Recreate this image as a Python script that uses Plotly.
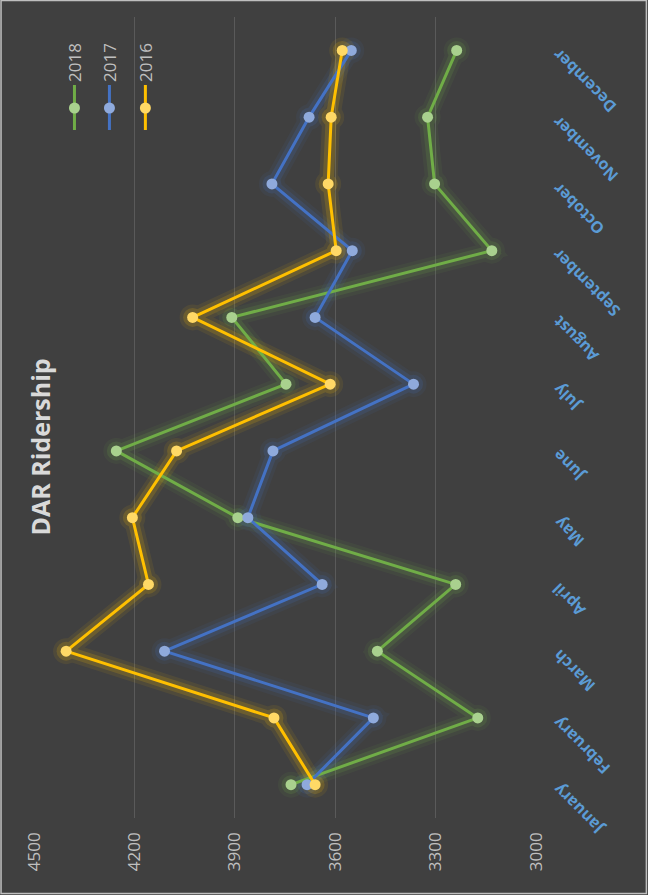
import plotly.graph_objects as go

months = ["January", "February", "March", "April", "May", "June", "July",
          "August", "September", "October", "November", "December"]
r2018 = [3732, 3174, 3474, 3240, 3891, 4254, 3747, 3909, 3132, 3303, 3324, 3237]
r2017 = [3684, 3486, 4110, 3639, 3861, 3786, 3366, 3660, 3549, 3789, 3678, 3552]
r2016 = [3660, 3783, 4404, 4158, 4206, 4074, 3615, 4026, 3597, 3621, 3612, 3579]
x_ticks = [4500, 4200, 3900, 3600, 3300, 3000]

series = [
    ("2018", r2018, "#70AD47", "#A9D18E"),
    ("2017", r2017, "#4472C4", "#8FAADC"),
    ("2016", r2016, "#FFC000", "#FFD966"),
]

bg = "#404040"
W, H = 648, 895
L, R, T, B = 33.5, 536, 17, 818   # plot area in pixels


def px(x):
    return (x - L) / (R - L)


def py(y):
    return (B - y) / (B - T)


fig = go.Figure()

# glow layers
for name, vals, lc, mc in series:
    for w, op in [(18, 0.08), (11, 0.16)]:
        fig.add_trace(go.Scatter(
            x=vals, y=months, mode="lines+markers",
            line=dict(color=lc, width=w), marker=dict(color=lc, size=w + 8),
            opacity=op, showlegend=False, hoverinfo="skip"))

for name, vals, lc, mc in series:
    fig.add_trace(go.Scatter(
        x=vals, y=months, mode="lines+markers", name=name,
        line=dict(color=lc, width=3), marker=dict(color=mc, size=11),
        showlegend=False))

# manual rotated legend
leg_x = [74, 109, 145]
for (name, vals, lc, mc), lx in zip(series, leg_x):
    fig.add_shape(type="line", xref="paper", yref="paper",
                  x0=px(lx), x1=px(lx), y0=py(85), y1=py(130),
                  line=dict(color=lc, width=3))
    fig.add_shape(type="circle", xref="paper", yref="paper",
                  xsizemode="pixel", ysizemode="pixel",
                  xanchor=px(lx), yanchor=py(108),
                  x0=-5.5, x1=5.5, y0=-5.5, y1=5.5,
                  fillcolor=mc, line=dict(width=0))
    fig.add_annotation(xref="paper", yref="paper",
                       x=px(lx), y=py(62.5),
                       text=name, textangle=-90, showarrow=False,
                       font=dict(color="#BFBFBF", size=17, family="Open Sans"),
                       xanchor="center", yanchor="middle")

# title
fig.add_annotation(xref="paper", yref="paper",
                   x=px(40), y=py(447),
                   text="<b>DAR Ridership</b>", textangle=-90, showarrow=False,
                   font=dict(color="#D9D9D9", size=25, family="Open Sans"),
                   xanchor="center", yanchor="middle")

# category labels (rotated)
for m in months:
    fig.add_annotation(xref="paper", yref="y", x=px(545), y=m, yshift=9,
                       text="<b>" + m + "</b>", textangle=-135, showarrow=False,
                       font=dict(color="#5B9BD5", size=16, family="Open Sans"),
                       xanchor="left", yanchor="top")

# chart border
fig.add_shape(type="rect", xref="paper", yref="paper",
              x0=px(0.5), x1=px(W - 1.5), y0=py(0.5), y1=py(H - 1.5),
              line=dict(color="#BFBFBF", width=1.5), layer="below")

fig.update_layout(
    width=W, height=H,
    margin=dict(l=L, r=W - R, t=T, b=H - B, autoexpand=False),
    paper_bgcolor=bg, plot_bgcolor=bg,
    font=dict(family="Open Sans"),
    xaxis=dict(range=[4500, 3000], tickvals=x_ticks, tickangle=-90,
               showgrid=True, gridcolor="#5A5A5A", gridwidth=1,
               zeroline=False, showline=False, ticks="", automargin=False,
               ticklabelstandoff=10,
               tickfont=dict(color="#BFBFBF", size=17)),
    yaxis=dict(type="category", categoryarray=months, range=[-0.5, 11.5],
               showticklabels=False, showgrid=False, zeroline=False,
               showline=False, ticks="", automargin=False),
)
fig.write_html("out.html")
